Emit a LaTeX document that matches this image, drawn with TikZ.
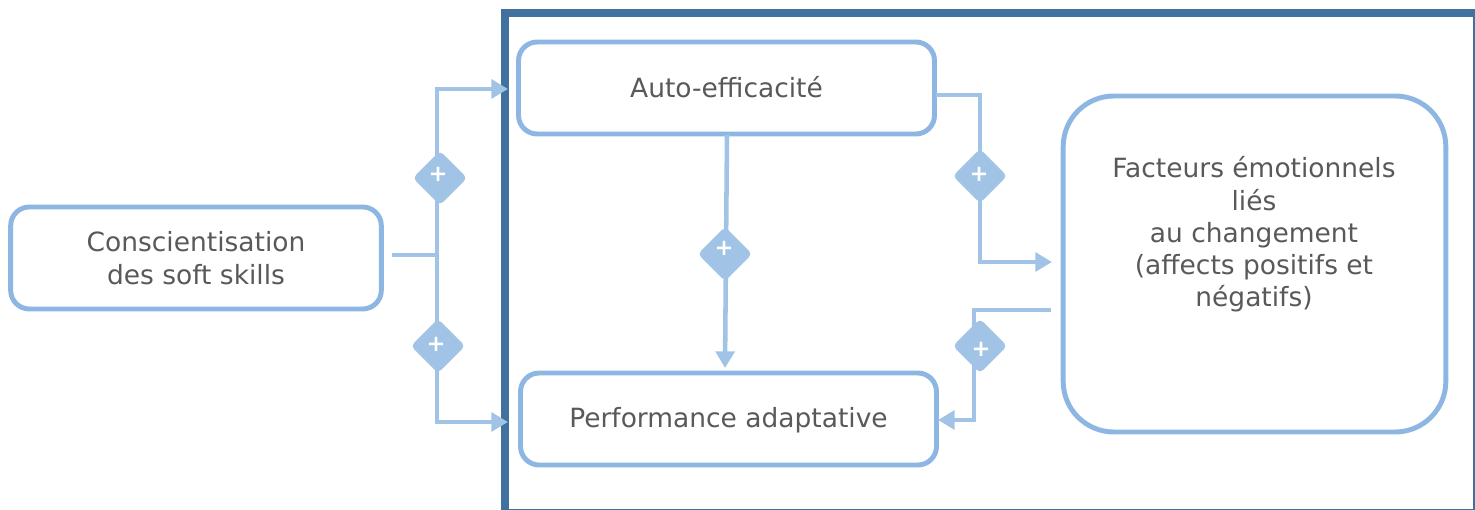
\documentclass[tikz,border=0pt]{standalone}
\usepackage{fontspec}
\setmainfont{DejaVu Sans}
\usetikzlibrary{arrows.meta,shapes.geometric}
\definecolor{framec}{HTML}{41729F}
\definecolor{boxc}{HTML}{8DB7E2}
\definecolor{linec}{HTML}{A0C3E6}
\definecolor{textc}{HTML}{595959}
\tikzset{
  x=0.75pt,y=-0.75pt,
  softbox/.style={draw=boxc,line width=3.7pt,rounded corners=14pt,fill=white,inner sep=0pt,align=center,text=textc,font=\fontsize{19.85}{24.2}\selectfont},
  conn/.style={draw=linec,line width=3.4pt},
  arr/.style={conn,-{Triangle[length=12.5pt,width=14pt,color=linec]}},
  gate/.style={diamond,fill=linec,minimum width=41pt,minimum height=41pt,inner sep=0pt,rounded corners=3.5pt},
  plus/.style={text=white,inner sep=0pt,font=\bfseries\fontsize{17}{17}\selectfont},
}
\begin{document}
\begin{tikzpicture}
\useasboundingbox (0,0) rectangle (1475,510);
% frame
\draw[framec,line width=1pt] (1474,13) -- (1474,509.5) -- (505,509.5);
\draw[framec,line width=6pt,line cap=butt] (505,510) -- (505,13) -- (1475,13);
% boxes
\node[softbox,minimum width=278pt,minimum height=76.5pt] (cons) at (196,258) {Conscientisation\\des soft skills};
\node[softbox,minimum width=312pt,minimum height=69pt,text height=15pt,text depth=0pt] (auto) at (726.5,88) {Auto-efficacité};
\node[softbox,minimum width=312pt,minimum height=69pt,text height=17pt,text depth=4pt] (perf) at (728.5,419) {Performance adaptative};
\node[softbox,rounded corners=38pt,minimum width=287pt,minimum height=252pt] (fact) at (1254.5,264) {};
\node[text=textc,align=center,font=\fontsize{19.85}{24.2}\selectfont,anchor=north] (facttext) at (1254,152) {Facteurs émotionnels\\liés\\au changement\\(affects positifs et\\négatifs)};
% free ends
\coordinate (src) at (392,255);
\coordinate (junc) at (437,255);
\coordinate (topin) at (508,89);
\coordinate (botin) at (508,422);
\coordinate (topbend) at (437,89);
\coordinate (botbend) at (437,422);
\coordinate (autoout) at (936,95);
\coordinate (autobend) at (980,95);
\coordinate (factbend) at (980,262);
\coordinate (factin) at (1052,262);
\coordinate (factout) at (1051,310);
\coordinate (fbbend) at (974,310);
\coordinate (perfbend) at (974,420);
\coordinate (perfin) at (938,420);
\coordinate (autodown) at (727,135);
\coordinate (perfup) at (725,368);
% connectors
\draw[conn] (src) -- (junc);
\draw[arr] (junc) -- (topbend) -- (topin);
\draw[arr] (junc) -- (botbend) -- (botin);
\draw[arr] (autodown) -- (perfup);
\draw[arr] (autoout) -- (autobend) -- (factbend) -- (factin);
\draw[arr] (factout) -- (fbbend) -- (perfbend) -- (perfin);
% gates
\node[gate] (g1) at (440,178) {};
\node[gate] (g2) at (438,346) {};
\node[gate] (g3) at (725,254) {};
\node[gate] (g4) at (980,176) {};
\node[gate] (g5) at (980,346) {};
\node[plus] (p1) at (438,174) {+};
\node[plus] (p2) at (436,344) {+};
\node[plus] (p3) at (724,248) {+};
\node[plus] (p4) at (979,174) {+};
\node[plus] (p5) at (981,349) {+};
\end{tikzpicture}
\end{document}
